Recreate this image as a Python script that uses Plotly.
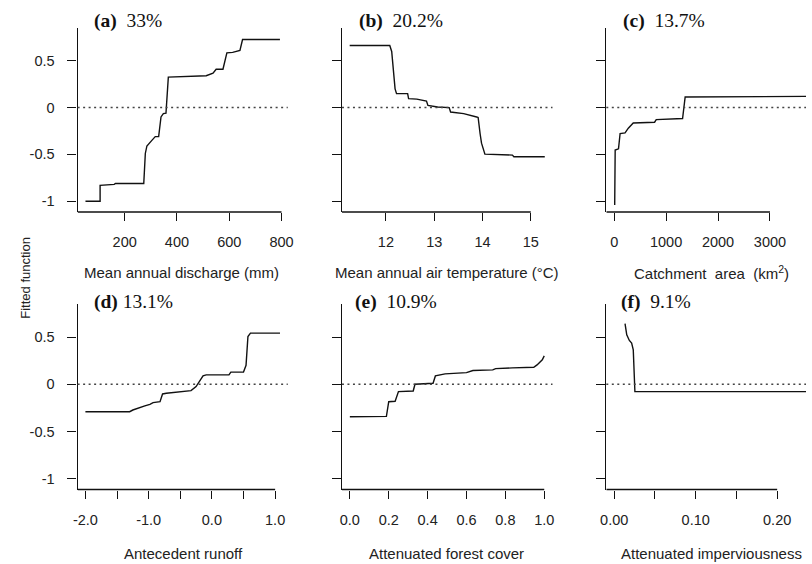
import plotly.graph_objects as go

W, H = 812, 564

# ---------------- data ----------------
a_x = [50, 106, 106, 160, 165, 273, 279, 285, 304, 317, 330, 339, 348, 358, 367, 462, 512, 538, 550, 576, 591, 613, 641, 651, 794]
a_y = [-1.0, -1.0, -0.83, -0.82, -0.81, -0.81, -0.49, -0.41, -0.35, -0.31, -0.31, -0.10, -0.064, -0.06, 0.325, 0.33, 0.34, 0.368, 0.41, 0.41, 0.585, 0.59, 0.61, 0.727, 0.727]

b_x = [11.25, 12.08, 12.12, 12.15, 12.19, 12.22, 12.45, 12.47, 12.64, 12.84, 12.87, 13.07, 13.31, 13.34, 13.61, 13.88, 13.91, 13.95, 13.98, 14.05, 14.62, 14.65, 15.29]
b_y = [0.663, 0.663, 0.60, 0.40, 0.20, 0.149, 0.149, 0.096, 0.09, 0.07, 0.024, 0.006, 0.0, -0.047, -0.064, -0.10, -0.105, -0.277, -0.38, -0.497, -0.507, -0.525, -0.525]

c_x = [10, 19, 83, 114, 209, 272, 367, 778, 810, 1317, 1367, 3800]
c_y = [-1.04, -0.454, -0.44, -0.277, -0.27, -0.22, -0.164, -0.156, -0.128, -0.117, 0.113, 0.12]

d_x = [-2.0, -1.30, -1.25, -1.14, -1.06, -0.98, -0.93, -0.82, -0.78, -0.72, -0.51, -0.33, -0.25, -0.20, -0.14, -0.09, 0.27, 0.30, 0.50, 0.54, 0.57, 0.61, 1.077]
d_y = [-0.291, -0.291, -0.273, -0.245, -0.23, -0.213, -0.195, -0.185, -0.103, -0.096, -0.085, -0.068, -0.025, 0.028, 0.088, 0.099, 0.099, 0.128, 0.13, 0.2, 0.506, 0.542, 0.542]

e_x = [0.0, 0.188, 0.20, 0.233, 0.25, 0.326, 0.335, 0.428, 0.44, 0.48, 0.49, 0.60, 0.633, 0.735, 0.75, 0.836, 0.946, 0.963, 0.99, 1.0]
e_y = [-0.345, -0.34, -0.185, -0.18, -0.078, -0.072, 0.0, 0.01, 0.088, 0.10, 0.11, 0.123, 0.145, 0.152, 0.166, 0.173, 0.18, 0.205, 0.259, 0.30]

f_x = [0.0133, 0.0154, 0.0186, 0.0214, 0.0234, 0.0254, 0.245]
f_y = [0.641, 0.524, 0.464, 0.436, 0.365, -0.078, -0.078]

# labelled ticks and unlabelled (minor) ticks
a_ticks = [200, 400, 600, 800]
a_text = ["200", "400", "600", "800"]
b_ticks = [12, 13, 14, 15]
b_text = ["12", "13", "14", "15"]
c_ticks = [0, 1000, 2000, 3000]
c_text = ["0", "1000", "2000", "3000"]
d_ticks = [-2.0, -1.0, 0.0, 1.0]
d_text = ["-2.0", "-1.0", "0.0", "1.0"]
d_minor = [-1.5, -0.5, 0.5]
e_ticks = [0.0, 0.2, 0.4, 0.6, 0.8, 1.0]
e_text = ["0.0", "0.2", "0.4", "0.6", "0.8", "1.0"]
f_ticks = [0.0, 0.10, 0.20]
f_text = ["0.00", "0.10", "0.20"]
f_minor = [0.05, 0.15]
y_ticks = [-1, -0.5, 0, 0.5]
y_text = ["-1", "-0.5", "0", "0.5"]

titles = ["<b>(a)</b>\u00a0\u00a033%", "<b>(b)</b>\u00a0\u00a020.2%", "<b>(c)</b>\u00a0\u00a013.7%",
          "<b>(d)</b>\u00a013.1%", "<b>(e)</b>\u00a0\u00a010.9%", "<b>(f)</b>\u00a0\u00a09.1%"]
xtitles = ["Mean annual discharge (mm)", "Mean annual air temperature (°C)",
           "Catchment\u00a0\u00a0area\u00a0\u00a0(km<sup>2</sup>)",
           "Antecedent runoff", "Attenuated forest cover", "Attenuated imperviousness"]

# ---------------- layout geometry (pixels) ----------------
cols_px = [(72.7, 286.0), (341.0, 554.7), (609.3, 812.0)]
rows_px = [(28.0, 212.0), (304.0, 489.5)]
xranges = [[20, 824], [11.09, 15.45], [-152, 3694],
           [-2.123, 1.2], [-0.0406, 1.0425], [-0.0097, 0.2354]]
yrange = [-1.115, 0.85]
title_left_px = [87.5, 356.0, 624.0, 87.5, 352.5, 622.0]
title_y_px = [21.0, 302.0]
xtitle_center_px = [178.0, 448.0, 716.0, 180.0, 447.5, 716.0]
xtitle_y_px = [272.0, 553.5]

series = [(a_x, a_y), (b_x, b_y), (c_x, c_y), (d_x, d_y), (e_x, e_y), (f_x, f_y)]
xticks = [(a_ticks, a_text, None), (b_ticks, b_text, None), (c_ticks, c_text, None),
          (d_ticks, d_text, d_minor), (e_ticks, e_text, None), (f_ticks, f_text, f_minor)]

SANS = "Liberation Sans, Arial, sans-serif"
SERIF = "Liberation Serif, Times New Roman, serif"
INK = "#111111"

fig = go.Figure()
layout = dict(width=W, height=H, margin=dict(l=0, r=0, t=0, b=0),
              paper_bgcolor="white", plot_bgcolor="white", showlegend=False)
shapes = []
annotations = []

for i in range(6):
    r, c = divmod(i, 3)
    n = "" if i == 0 else str(i + 1)
    xs, ys = series[i]
    fig.add_trace(go.Scatter(x=xs, y=ys, mode="lines", xaxis="x" + n, yaxis="y" + n,
                             line=dict(color=INK, width=1.4), hoverinfo="skip"))
    x0, x1 = cols_px[c]
    y0, y1 = rows_px[r]
    tv, tt, mv = xticks[i]
    xa = dict(domain=[x0 / W, x1 / W], range=xranges[i], anchor="y" + n,
              showgrid=False, zeroline=False, showline=False,
              ticks="outside", ticklen=8, tickwidth=1.3, tickcolor=INK,
              tickvals=tv, ticktext=tt, ticklabelstandoff=9,
              tickfont=dict(family=SANS, size=14.5, color="#222222"))
    if mv:
        xa["minor"] = dict(tickvals=mv, ticks="outside", ticklen=8, tickwidth=1.3,
                           tickcolor=INK, showgrid=False)
    layout["xaxis" + n] = xa
    layout["yaxis" + n] = dict(domain=[1 - y1 / H, 1 - y0 / H], range=yrange, anchor="x" + n,
                               showgrid=False, zeroline=False, showline=True,
                               linecolor=INK, linewidth=1.3,
                               ticks="outside", ticklen=9, tickwidth=1.3, tickcolor=INK,
                               tickvals=y_ticks, ticktext=y_text,
                               showticklabels=(c == 0), ticklabelstandoff=10,
                               tickfont=dict(family=SANS, size=14.5, color="#222222"))
    # bottom axis line from plot left to last tick
    shapes.append(dict(type="line", xref="x" + n, yref="y" + n + " domain",
                       x0=xranges[i][0], x1=tv[-1], y0=0, y1=0,
                       line=dict(color=INK, width=1.3)))
    # dotted zero reference
    shapes.append(dict(type="line", xref="x" + n + " domain", yref="y" + n,
                       x0=0, x1=1, y0=0, y1=0,
                       line=dict(color="#444444", width=1.5, dash="2px,3.5px")))
    annotations.append(dict(text=titles[i], xref="paper", yref="paper",
                            x=title_left_px[i] / W, y=1 - title_y_px[r] / H,
                            xanchor="left", yanchor="middle", showarrow=False,
                            font=dict(family=SERIF, size=19.5, color="#111111")))
    annotations.append(dict(text=xtitles[i], xref="paper", yref="paper",
                            x=xtitle_center_px[i] / W, y=1 - xtitle_y_px[r] / H,
                            xanchor="center", yanchor="middle", showarrow=False,
                            font=dict(family=SANS, size=15, color="#222222")))

annotations.append(dict(text="Fitted function", xref="paper", yref="paper",
                        x=19 / W, y=1 - 278 / H, textangle=-90,
                        xanchor="center", yanchor="middle", showarrow=False,
                        font=dict(family=SANS, size=13, color="#222222")))

layout["shapes"] = shapes
layout["annotations"] = annotations
fig.update_layout(**layout)
fig.write_html("out.html")
